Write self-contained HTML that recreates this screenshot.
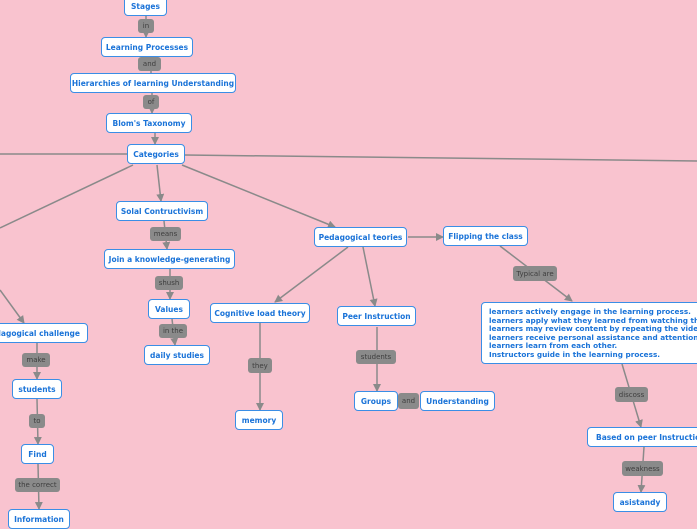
<!DOCTYPE html>
<html><head><meta charset="utf-8"><style>
body{margin:0;width:697px;height:520px;overflow:hidden;background:#f9c3cf;position:relative;font-family:"DejaVu Sans","Liberation Sans",sans-serif}
.n{position:absolute;box-sizing:border-box;background:#fff;border:1.5px solid #3a8ee6;border-radius:4px;color:#1a73d8;font-weight:bold;font-size:7.5px;display:flex;align-items:center;justify-content:center;white-space:nowrap;overflow:hidden}
.l{position:absolute;box-sizing:border-box;background:#8a8a8a;border-radius:3px;color:#3e3e3e;font-size:7px;display:flex;align-items:center;justify-content:center;white-space:nowrap}
svg{position:absolute;left:0;top:0}
.big{justify-content:flex-start;align-items:flex-start;padding:5px 7px;line-height:8.5px;white-space:pre;font-size:7.3px}
</style></head><body>
<svg width="697" height="520">
<defs><marker id="a" markerWidth="8" markerHeight="8" refX="7" refY="4" orient="auto" markerUnits="userSpaceOnUse"><path d="M0,0 L8,4 L0,8 Z" fill="#8a8a8a"/></marker></defs>
<g stroke="#8a8a8a" stroke-width="1.5" fill="none">
<line x1="146" y1="16" x2="146" y2="37" marker-end="url(#a)"/>
<line x1="151" y1="57" x2="151" y2="73"/>
<line x1="152" y1="93" x2="152" y2="113" marker-end="url(#a)"/>
<line x1="155" y1="133" x2="155" y2="144" marker-end="url(#a)"/>
<line x1="0" y1="154" x2="127" y2="154"/>
<line x1="185" y1="155" x2="697" y2="161"/>
<line x1="133" y1="165" x2="0" y2="228"/>
<line x1="0" y1="290" x2="24" y2="323" marker-end="url(#a)"/>
<line x1="157" y1="165" x2="161" y2="201" marker-end="url(#a)"/>
<line x1="182" y1="165" x2="335" y2="227" marker-end="url(#a)"/>
<line x1="164" y1="221" x2="167" y2="249" marker-end="url(#a)"/>
<line x1="170" y1="269" x2="170" y2="299" marker-end="url(#a)"/>
<line x1="172" y1="319" x2="175" y2="345" marker-end="url(#a)"/>
<line x1="408" y1="237" x2="443" y2="237" marker-end="url(#a)"/>
<line x1="348" y1="247" x2="275" y2="302" marker-end="url(#a)"/>
<line x1="363" y1="247" x2="375" y2="306" marker-end="url(#a)"/>
<line x1="260" y1="323" x2="260" y2="410" marker-end="url(#a)"/>
<line x1="377" y1="327" x2="377" y2="391" marker-end="url(#a)"/>
<line x1="500" y1="246" x2="572" y2="301" marker-end="url(#a)"/>
<line x1="622" y1="364" x2="641" y2="427" marker-end="url(#a)"/>
<line x1="644" y1="447" x2="641" y2="492" marker-end="url(#a)"/>
<line x1="37" y1="343" x2="37" y2="379" marker-end="url(#a)"/>
<line x1="37" y1="399" x2="38" y2="444" marker-end="url(#a)"/>
<line x1="38" y1="464" x2="39" y2="509" marker-end="url(#a)"/>
</g></svg>
<div class="n" style="left:124px;top:-4px;width:43px;height:20px">Stages</div>
<div class="l" style="left:138px;top:19px;width:16px;height:14px">in</div>
<div class="n" style="left:101px;top:37px;width:92px;height:20px">Learning Processes</div>
<div class="l" style="left:138px;top:57px;width:23px;height:14px">and</div>
<div class="n" style="left:70px;top:73px;width:166px;height:20px">Hierarchies of learning Understanding</div>
<div class="l" style="left:143px;top:95px;width:16px;height:14px">of</div>
<div class="n" style="left:106px;top:113px;width:86px;height:20px">Blom's Taxonomy</div>
<div class="n" style="left:127px;top:144px;width:58px;height:20px">Categories</div>
<div class="n" style="left:116px;top:201px;width:92px;height:20px">Solal Contructivism</div>
<div class="l" style="left:150px;top:227px;width:31px;height:14px">means</div>
<div class="n" style="left:104px;top:249px;width:131px;height:20px">Join a knowledge-generating</div>
<div class="l" style="left:155px;top:276px;width:28px;height:14px">shush</div>
<div class="n" style="left:148px;top:299px;width:42px;height:20px">Values</div>
<div class="l" style="left:159px;top:324px;width:28px;height:14px">in the</div>
<div class="n" style="left:144px;top:345px;width:66px;height:20px">daily studies</div>
<div class="n" style="left:314px;top:227px;width:93px;height:20px">Pedagogical teories</div>
<div class="n" style="left:443px;top:226px;width:85px;height:20px">Flipping the class</div>
<div class="l" style="left:513px;top:266px;width:44px;height:15px">Typical are</div>
<div class="n big" style="left:481px;top:302px;width:230px;height:62px">learners actively engage in the learning process.
learners apply what they learned from watching the video.
learners may review content by repeating the video lecture.
learners receive personal assistance and attention needed.
learners learn from each other.
Instructors guide in the learning process.</div>
<div class="l" style="left:615px;top:387px;width:33px;height:15px">discoss</div>
<div class="n" style="left:587px;top:427px;width:116px;height:20px;justify-content:flex-start;padding-left:8px">Based on peer Instruction</div>
<div class="l" style="left:622px;top:461px;width:41px;height:15px">weakness</div>
<div class="n" style="left:613px;top:492px;width:54px;height:20px">asistandy</div>
<div class="n" style="left:337px;top:306px;width:79px;height:20px">Peer Instruction</div>
<div class="l" style="left:356px;top:350px;width:40px;height:14px">students</div>
<div class="n" style="left:354px;top:391px;width:44px;height:20px">Groups</div>
<div class="l" style="left:398px;top:393px;width:21px;height:16px">and</div>
<div class="n" style="left:420px;top:391px;width:75px;height:20px">Understanding</div>
<div class="n" style="left:210px;top:303px;width:100px;height:20px">Cognitive load theory</div>
<div class="l" style="left:248px;top:358px;width:24px;height:15px">they</div>
<div class="n" style="left:235px;top:410px;width:48px;height:20px">memory</div>
<div class="n" style="left:-20px;top:323px;width:108px;height:20px;justify-content:flex-end;padding-right:7px">Pedagogical challenge</div>
<div class="l" style="left:22px;top:353px;width:28px;height:14px">make</div>
<div class="n" style="left:12px;top:379px;width:50px;height:20px">students</div>
<div class="l" style="left:29px;top:414px;width:16px;height:14px">to</div>
<div class="n" style="left:21px;top:444px;width:33px;height:20px">Find</div>
<div class="l" style="left:15px;top:478px;width:45px;height:14px">the correct</div>
<div class="n" style="left:8px;top:509px;width:62px;height:20px;align-items:flex-start;padding-top:5px">Information</div>
</body></html>
